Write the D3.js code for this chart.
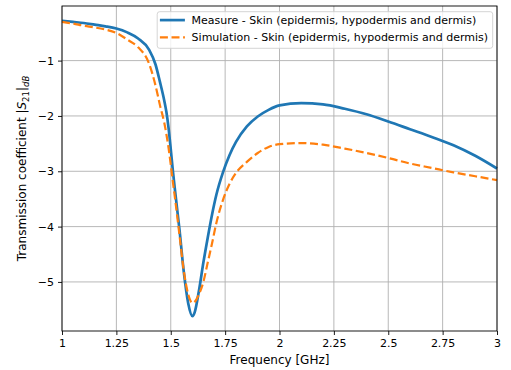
<!DOCTYPE html>
<html>
<head>
<meta charset="utf-8">
<script src="https://cdn.jsdelivr.net/npm/d3@7"></script>
<style>
  body { margin: 0; background: #fff; }
  svg { font-family: "DejaVu Sans", sans-serif; }
</style>
</head>
<body>
<svg id="chart"></svg>
<script>
// Frequency samples (GHz), shared by both series
const freq = [1.0, 1.05, 1.1, 1.15, 1.2, 1.25, 1.3, 1.35, 1.4, 1.43, 1.45, 1.47, 1.48, 1.49, 1.5,
  1.51, 1.52, 1.54, 1.56, 1.58, 1.6, 1.61, 1.63, 1.65, 1.67, 1.69, 1.71, 1.74, 1.77, 1.8,
  1.85, 1.9, 1.95, 2.0, 2.1, 2.2, 2.3, 2.4, 2.5, 2.6, 2.7, 2.8, 2.9, 3.0];

// Measured |S21| (dB)
const measure = [-0.28, -0.30, -0.32, -0.35, -0.38, -0.42, -0.49, -0.60, -0.80, -1.07, -1.38, -1.72, -1.93, -2.22, -2.60,
  -3.00, -3.36, -4.05, -4.82, -5.38, -5.62, -5.55, -5.15, -4.65, -4.20, -3.78, -3.42, -3.02, -2.71, -2.47,
  -2.19, -2.01, -1.89, -1.81, -1.77, -1.79, -1.87, -1.97, -2.10, -2.24, -2.38, -2.53, -2.72, -2.95];

// Simulated |S21| (dB)
const simulation = [-0.30, -0.33, -0.37, -0.40, -0.44, -0.50, -0.62, -0.76, -1.05, -1.45, -1.80, -2.12, -2.33, -2.58, -2.88,
  -3.20, -3.50, -4.15, -4.80, -5.22, -5.38, -5.36, -5.22, -5.00, -4.65, -4.30, -3.93, -3.52, -3.23, -3.03,
  -2.83, -2.67, -2.56, -2.51, -2.49, -2.52, -2.59, -2.67, -2.76, -2.86, -2.94, -3.02, -3.09, -3.16];

const xTicks = [1, 1.25, 1.5, 1.75, 2, 2.25, 2.5, 2.75, 3];
const yTicks = [-1, -2, -3, -4, -5];
const labels = ["Measure - Skin (epidermis, hypodermis and dermis)",
                "Simulation - Skin (epidermis, hypodermis and dermis)"];

const W = 511, H = 370;
const margin = { top: 6, right: 14, bottom: 39, left: 62 };
const width = W - margin.left - margin.right,
      height = H - margin.top - margin.bottom;

const svg = d3.select("#chart").attr("width", W).attr("height", H);
svg.append("rect").attr("width", W).attr("height", H).attr("fill", "#fff");

const g = svg.append("g").attr("transform", `translate(${margin.left},${margin.top})`);

// y range padded like matplotlib (5% of data span)
const allY = measure.concat(simulation);
const yMin = d3.min(allY), yMax = d3.max(allY), pad = (yMax - yMin) * 0.05;

const x = d3.scaleLinear().domain([1, 3]).range([0, width]);
const y = d3.scaleLinear().domain([yMin - pad, yMax + pad]).range([height, 0]);

const minus = d => d < 0 ? "\u2212" + (-d) : String(d);

// grid
g.append("g").selectAll("line").data(xTicks).enter().append("line")
  .attr("x1", d => x(d)).attr("x2", d => x(d)).attr("y1", 0).attr("y2", height)
  .attr("stroke", "#b0b0b0").attr("stroke-width", 0.9);
g.append("g").selectAll("line").data(yTicks).enter().append("line")
  .attr("y1", d => y(d)).attr("y2", d => y(d)).attr("x1", 0).attr("x2", width)
  .attr("stroke", "#b0b0b0").attr("stroke-width", 0.9);

// series
const line = d3.line()
  .x((d, i) => x(freq[i]))
  .y(d => y(d))
  .curve(d3.curveMonotoneX);

const plot = g.append("g");
plot.append("path").datum(measure)
  .attr("d", line).attr("fill", "none")
  .attr("stroke", "#1f77b4").attr("stroke-width", 2.7);
plot.append("path").datum(simulation)
  .attr("d", line).attr("fill", "none")
  .attr("stroke", "#ff7f0e").attr("stroke-width", 2.2)
  .attr("stroke-dasharray", "8,3.6");

// axes
const xAxis = g.append("g").attr("transform", `translate(0,${height})`)
  .call(d3.axisBottom(x).tickValues(xTicks).tickFormat(d => String(d)).tickSize(4).tickPadding(4));
const yAxis = g.append("g")
  .call(d3.axisLeft(y).tickValues(yTicks).tickFormat(minus).tickSize(4).tickPadding(4));
[xAxis, yAxis].forEach(a => {
  a.selectAll("text").attr("font-size", 11).attr("font-family", "DejaVu Sans").attr("fill", "#000");
  a.selectAll("line").attr("stroke", "#000").attr("stroke-width", 0.9);
  a.select(".domain").remove();
});

// frame
g.append("rect").attr("width", width).attr("height", height)
  .attr("fill", "none").attr("stroke", "#000").attr("stroke-width", 0.9);

// axis labels
svg.append("text")
  .attr("x", margin.left + width / 2).attr("y", H - 6)
  .attr("text-anchor", "middle").attr("font-size", 12)
  .text("Frequency [GHz]");

const yl = svg.append("text")
  .attr("transform", `translate(26,${margin.top + height / 2}) rotate(-90)`)
  .attr("text-anchor", "middle").attr("font-size", 12);
yl.append("tspan").text("Transmission coefficient |");
yl.append("tspan").attr("font-style", "italic").text("S");
yl.append("tspan").attr("font-size", 8.5).attr("dy", 2.7).text("21");
yl.append("tspan").attr("dy", -2.7).text("|");
yl.append("tspan").attr("font-size", 8.5).attr("font-style", "italic").attr("dy", 2.7).text("dB");

// legend
const leg = g.append("g").attr("transform", `translate(${width - 4.3 - 335.5},5.7)`);
leg.append("rect").attr("width", 335.5).attr("height", 36.6).attr("rx", 2.5)
  .attr("fill", "#fff").attr("fill-opacity", 0.8)
  .attr("stroke", "#d0d0d0").attr("stroke-width", 0.9);
const items = [
  { color: "#1f77b4", dash: null, w: 2.7 },
  { color: "#ff7f0e", dash: "8,3.6", w: 2.2 }
];
items.forEach((it, i) => {
  const yy = 8.4 + i * 17.3;
  leg.append("line").attr("x1", 2.7).attr("x2", 27.7).attr("y1", yy).attr("y2", yy)
    .attr("stroke", it.color).attr("stroke-width", it.w)
    .attr("stroke-dasharray", it.dash);
  leg.append("text").attr("x", 34.4).attr("y", yy + 4)
    .attr("font-size", 11).text(labels[i]);
});
</script>
</body>
</html>
